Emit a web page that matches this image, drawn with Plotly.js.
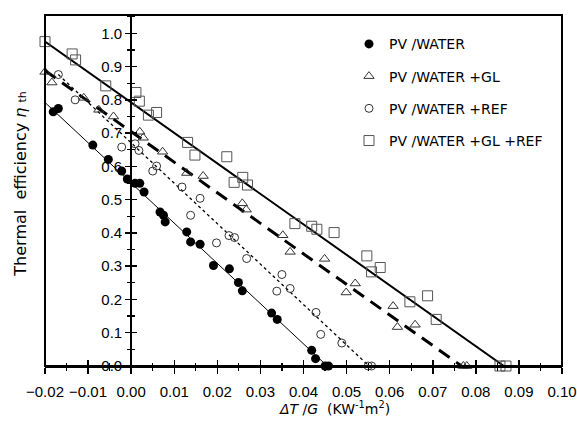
<!DOCTYPE html>
<html>
<head>
<meta charset="utf-8">
<script src="https://cdn.plot.ly/plotly-3.0.1.min.js"></script>
<style>html,body{margin:0;padding:0;background:#fff;}#chart{width:577px;height:424px;}</style>
</head>
<body>
<div id="chart"></div>
<script>
// ---- Data ----
const seriesNames = ['PV /WATER', 'PV /WATER +GL', 'PV /WATER +REF', 'PV /WATER +GL +REF'];

// PV/WATER (filled circles)
const xWater = [-0.0181, -0.0169, -0.0089, -0.0053, -0.0022, -0.0009, 0.0009, 0.0020, 0.0030, 0.0067, 0.0075, 0.0079, 0.0129, 0.0138, 0.0160, 0.0191, 0.0228, 0.0249, 0.0258, 0.0326, 0.0339, 0.0419, 0.0428, 0.0450, 0.0458];
const yWater = [0.764, 0.774, 0.664, 0.621, 0.586, 0.562, 0.549, 0.549, 0.523, 0.463, 0.453, 0.433, 0.403, 0.373, 0.366, 0.302, 0.292, 0.251, 0.226, 0.159, 0.140, 0.047, 0.022, 0.0, 0.0];

// PV/WATER +GL (open triangles)
const xGL = [-0.0200, -0.0184, -0.0110, -0.0075, -0.0041, 0.0020, 0.0028, 0.0073, 0.0129, 0.0167, 0.0258, 0.0267, 0.0352, 0.0369, 0.0449, 0.0499, 0.0520, 0.0608, 0.0618, 0.0659, 0.0771, 0.0779];
const yGL = [0.884, 0.852, 0.806, 0.770, 0.750, 0.704, 0.686, 0.644, 0.580, 0.571, 0.489, 0.470, 0.393, 0.343, 0.322, 0.221, 0.248, 0.180, 0.117, 0.124, 0.0, 0.0];

// PV/WATER +REF (open circles)
const xREF = [-0.0169, -0.0130, -0.0022, 0.0009, 0.0018, 0.0059, 0.0050, 0.0118, 0.0160, 0.0138, 0.0227, 0.0240, 0.0198, 0.0268, 0.0350, 0.0369, 0.0338, 0.0429, 0.0440, 0.0489, 0.0550, 0.0558];
const yREF = [0.876, 0.800, 0.658, 0.668, 0.648, 0.601, 0.586, 0.538, 0.504, 0.453, 0.392, 0.386, 0.370, 0.323, 0.275, 0.233, 0.225, 0.161, 0.095, 0.069, 0.0, 0.0];

// PV/WATER +GL +REF (open squares)
const xGLREF = [-0.0200, -0.0137, -0.0129, -0.0059, 0.0011, 0.0019, 0.0040, 0.0059, 0.0131, 0.0148, 0.0222, 0.0239, 0.0259, 0.0270, 0.0380, 0.0419, 0.0431, 0.0471, 0.0547, 0.0558, 0.0578, 0.0647, 0.0688, 0.0708, 0.0856, 0.0870];
const yGLREF = [0.975, 0.938, 0.920, 0.842, 0.822, 0.796, 0.754, 0.762, 0.672, 0.634, 0.629, 0.552, 0.567, 0.544, 0.428, 0.420, 0.411, 0.401, 0.331, 0.283, 0.296, 0.193, 0.211, 0.140, 0.0, 0.0];

// Fitted lines (end points)
const fitWaterX = [-0.0200, 0.0455];
const fitWaterY = [0.792, 0.0];
const fitGLX = [-0.0200, 0.0767];
const fitGLY = [0.888, 0.0];
const fitREFX = [-0.0169, 0.0552];
const fitREFY = [0.876, 0.0];
const fitGLREFX = [-0.0200, 0.0865];
const fitGLREFY = [0.975, 0.0];

const xRange = [-0.02, 0.10];
const yRange = [0, 1.055];

// ---- Traces ----
const traces = [
  {x: fitWaterX, y: fitWaterY, mode: 'lines', line: {color: '#000', width: 1}, showlegend: false, hoverinfo: 'skip'},
  {x: fitGLX, y: fitGLY, mode: 'lines', line: {color: '#000', width: 3, dash: '13px,8px'}, showlegend: false, hoverinfo: 'skip'},
  {x: fitREFX, y: fitREFY, mode: 'lines', line: {color: '#000', width: 1.3, dash: 'dot'}, showlegend: false, hoverinfo: 'skip'},
  {x: fitGLREFX, y: fitGLREFY, mode: 'lines', line: {color: '#000', width: 2}, showlegend: false, hoverinfo: 'skip'},
  {x: xWater, y: yWater, name: seriesNames[0], legendgroup: 'a', mode: 'markers', cliponaxis: false,
   marker: {symbol: 'circle', size: 9, color: '#000'}},
  {x: xGL, y: yGL, name: seriesNames[1], legendgroup: 'b', mode: 'markers', cliponaxis: false,
   marker: {symbol: 'triangle-up-open', size: 9, color: '#333', line: {width: 1}}},
  {x: xREF, y: yREF, name: seriesNames[2], legendgroup: 'c', mode: 'markers', cliponaxis: false,
   marker: {symbol: 'circle-open', size: 8, color: '#333', line: {width: 1}}},
  {x: xGLREF, y: yGLREF, name: seriesNames[3], legendgroup: 'd', mode: 'markers', cliponaxis: false,
   marker: {symbol: 'square-open', size: 10, color: '#555', line: {width: 1}}},
  {x: [], y: [], xaxis: 'x2', yaxis: 'y2', mode: 'markers', showlegend: false, hoverinfo: 'skip'}
];

const yAxisPos = (0 - xRange[0]) / (xRange[1] - xRange[0]);

const layout = {
  width: 577, height: 424,
  margin: {l: 45, r: 15, t: 15, b: 58, pad: 0},
  paper_bgcolor: '#fff', plot_bgcolor: '#fff',
  font: {family: 'Liberation Sans, Arial, sans-serif', size: 15, color: '#000'},
  showlegend: true,
  legend: {x: 0.588, y: 0.962, xanchor: 'left', yanchor: 'top', bgcolor: 'rgba(0,0,0,0)', borderwidth: 0,
           font: {family: 'DejaVu Sans, sans-serif', size: 14, color: '#000'}, tracegroupgap: 11},
  xaxis: {range: xRange, tick0: 0, dtick: 0.01, tickformat: '.2f', ticks: 'outside', ticklen: 6, tickwidth: 1.5,
          tickcolor: '#000', showline: true, linewidth: 2, linecolor: '#000', showgrid: false, zeroline: false,
          ticklabelstandoff: 5, tickfont: {size: 15},
          minor: {dtick: 0.005, tick0: 0, ticks: 'outside', ticklen: 3, tickwidth: 1.2, tickcolor: '#000', showgrid: false}},
  xaxis2: {range: xRange, overlaying: 'x', anchor: 'y', side: 'bottom', tick0: 0, dtick: 0.01, ticks: 'inside', ticklen: 6,
           tickwidth: 1.5, tickcolor: '#000', showticklabels: false, showline: false, showgrid: false, zeroline: false,
           minor: {dtick: 0.005, tick0: 0, ticks: 'inside', ticklen: 3, tickwidth: 1.2, tickcolor: '#000', showgrid: false}},
  yaxis: {range: yRange, anchor: 'free', position: yAxisPos, tick0: 0, dtick: 0.1, tickformat: '.1f', ticks: 'outside',
          ticklen: 5, tickwidth: 1.5, tickcolor: '#000', showline: true, linewidth: 2, linecolor: '#000',
          showgrid: false, zeroline: false, tickfont: {size: 15},
          minor: {dtick: 0.05, tick0: 0, ticks: 'outside', ticklen: 3, tickwidth: 1.2, tickcolor: '#000', showgrid: false}},
  yaxis2: {range: yRange, overlaying: 'y', anchor: 'free', position: yAxisPos, tick0: 0, dtick: 0.1, ticks: 'inside',
           ticklen: 5, tickwidth: 1.5, tickcolor: '#000', showticklabels: false, showline: false, showgrid: false, zeroline: false,
           minor: {dtick: 0.05, tick0: 0, ticks: 'inside', ticklen: 3, tickwidth: 1.2, tickcolor: '#000', showgrid: false}},
  shapes: [{type: 'rect', xref: 'paper', yref: 'paper', x0: 0, x1: 1, y0: 0, y1: 1, line: {color: '#000', width: 2}}],
  annotations: [
    {text: 'Thermal  efficiency <i>η</i> <span style="font-size:11px">th</span>', xref: 'paper', yref: 'paper',
     x: -0.048, y: 0.52, textangle: -90, showarrow: false, xanchor: 'center', yanchor: 'middle',
     font: {family: 'DejaVu Sans, sans-serif', size: 16, color: '#000'}},
    {text: '<i>ΔT</i> /<i>G</i>  (KW<sup>-1</sup>m<sup>2</sup>)', xref: 'paper', yref: 'paper',
     x: 0.559, y: -0.12, showarrow: false, xanchor: 'center', yanchor: 'middle',
     font: {family: 'DejaVu Sans, sans-serif', size: 14, color: '#000'}}
  ]
};

Plotly.newPlot('chart', traces, layout, {staticPlot: true, displayModeBar: false});
</script>
</body>
</html>
